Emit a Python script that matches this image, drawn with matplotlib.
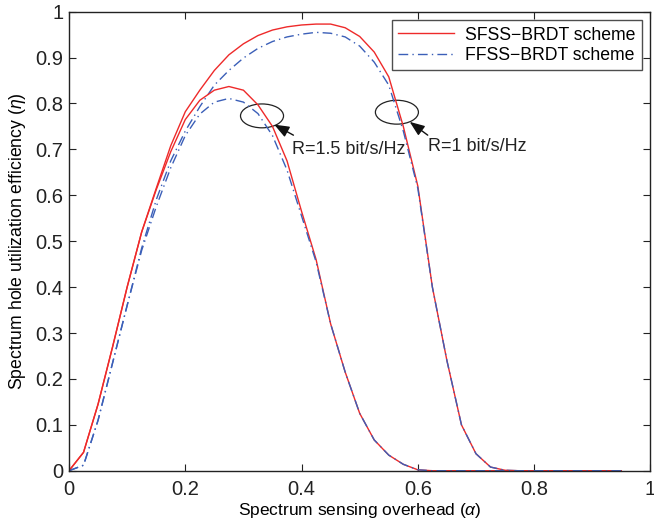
import matplotlib.pyplot as plt
from matplotlib.patches import Ellipse
import numpy as np

plt.rcParams['font.family'] = ['Liberation Sans', 'DejaVu Sans']
plt.rcParams['mathtext.fontset'] = 'custom'
plt.rcParams['mathtext.it'] = 'Liberation Sans:italic'

# spectrum sensing overhead (alpha), step 0.025 from 0 to 0.95
alpha = np.round(np.arange(0, 0.951, 0.025), 3)

# SFSS-BRDT, R = 1 bit/s/Hz
sfss_r1 = [0, 0.04, 0.145, 0.27, 0.40, 0.52, 0.615, 0.708, 0.782, 0.829,
           0.872, 0.906, 0.930, 0.948, 0.960, 0.967, 0.971, 0.973, 0.973, 0.965,
           0.946, 0.912, 0.858, 0.75, 0.62, 0.40, 0.24, 0.10, 0.037, 0.008,
           0.001, 0, 0, 0, 0, 0, 0, 0, 0]
# FFSS-BRDT, R = 1 bit/s/Hz
ffss_r1 = [0, 0.012, 0.11, 0.235, 0.36, 0.485, 0.59, 0.675, 0.74, 0.793,
           0.840, 0.872, 0.899, 0.920, 0.935, 0.945, 0.951, 0.955, 0.953, 0.945,
           0.925, 0.890, 0.840, 0.74, 0.615, 0.40, 0.24, 0.10, 0.037, 0.008,
           0.001, 0, 0, 0, 0, 0, 0, 0, 0]
# SFSS-BRDT, R = 1.5 bit/s/Hz
sfss_r15 = [0, 0.04, 0.145, 0.27, 0.40, 0.52, 0.612, 0.695, 0.765, 0.807,
            0.829, 0.837, 0.829, 0.797, 0.750, 0.675, 0.565, 0.46, 0.32, 0.215,
            0.125, 0.067, 0.034, 0.014, 0.002, 0, 0, 0, 0, 0,
            0, 0, 0, 0, 0, 0, 0, 0, 0]
# FFSS-BRDT, R = 1.5 bit/s/Hz
ffss_r15 = [0, 0.012, 0.11, 0.235, 0.36, 0.48, 0.575, 0.66, 0.73, 0.777,
            0.803, 0.811, 0.803, 0.778, 0.730, 0.655, 0.555, 0.455, 0.32, 0.215,
            0.125, 0.067, 0.034, 0.014, 0.002, 0, 0, 0, 0, 0,
            0, 0, 0, 0, 0, 0, 0, 0, 0]

red = '#ee2a2a'
blue = '#3b5fb8'

fig = plt.figure(figsize=(6.54, 5.19), dpi=100)
ax = fig.add_axes([0.1055, 0.093, 0.889, 0.8845])

ax.plot(alpha, sfss_r1, color=red, lw=1.0, label='SFSS\u2212BRDT scheme')
ax.plot(alpha, ffss_r1, color=blue, lw=1.0, ls=(0, (7, 3, 1, 3)), label='FFSS\u2212BRDT scheme')
ax.plot(alpha, sfss_r15, color=red, lw=1.0)
ax.plot(alpha, ffss_r15, color=blue, lw=1.0, ls=(0, (7, 3, 1, 3)))

ax.set_xlim(0, 1)
ax.set_ylim(0, 1)
ax.set_xticks(np.arange(0, 1.01, 0.2))
ax.set_xticklabels(['0', '0.2', '0.4', '0.6', '0.8', '1'])
ax.set_yticks(np.arange(0, 1.01, 0.1))
ax.set_yticklabels(['0', '0.1', '0.2', '0.3', '0.4', '0.5', '0.6', '0.7', '0.8', '0.9', '1'])
ax.tick_params(direction='in', top=True, right=True, length=5, width=0.8,
               labelsize=14.5, colors='#222222')
ax.tick_params(axis='x', pad=7)
ax.tick_params(axis='y', pad=4)
for s in ax.spines.values():
    s.set_linewidth(1.0)
    s.set_color('#222222')

ax.set_xlabel(r'Spectrum sensing overhead ($\alpha$)', fontsize=12.5, labelpad=1)
ax.set_ylabel(r'Spectrum hole utilization efficiency ($\eta$)', fontsize=12.7, labelpad=5)

# ellipses marking the two rate groups
ax.add_patch(Ellipse((0.332, 0.773), 0.074, 0.052, fill=False, ec='#222222', lw=0.9))
ax.add_patch(Ellipse((0.564, 0.781), 0.074, 0.052, fill=False, ec='#222222', lw=0.9))

arrow = dict(arrowstyle='-|>,head_length=0.9,head_width=0.35', color='#111111', lw=1.0,
             shrinkA=0, shrinkB=0)
ax.annotate('', xy=(0.353, 0.754), xytext=(0.386, 0.731), arrowprops=arrow)
ax.annotate('', xy=(0.586, 0.760), xytext=(0.617, 0.731), arrowprops=arrow)
ax.text(0.384, 0.700, 'R=1.5 bit/s/Hz', fontsize=13, va='center', ha='left', color='#222222')
ax.text(0.618, 0.706, 'R=1 bit/s/Hz', fontsize=13, va='center', ha='left', color='#222222')

leg = ax.legend(loc='upper right', fontsize=12.7, frameon=True, fancybox=False,
                edgecolor='#222222', borderpad=0.35, handlelength=3.2,
                labelspacing=0.2, handletextpad=0.6, borderaxespad=0.5)
leg.get_frame().set_linewidth(1.0)

plt.savefig('out.png', dpi=100)
